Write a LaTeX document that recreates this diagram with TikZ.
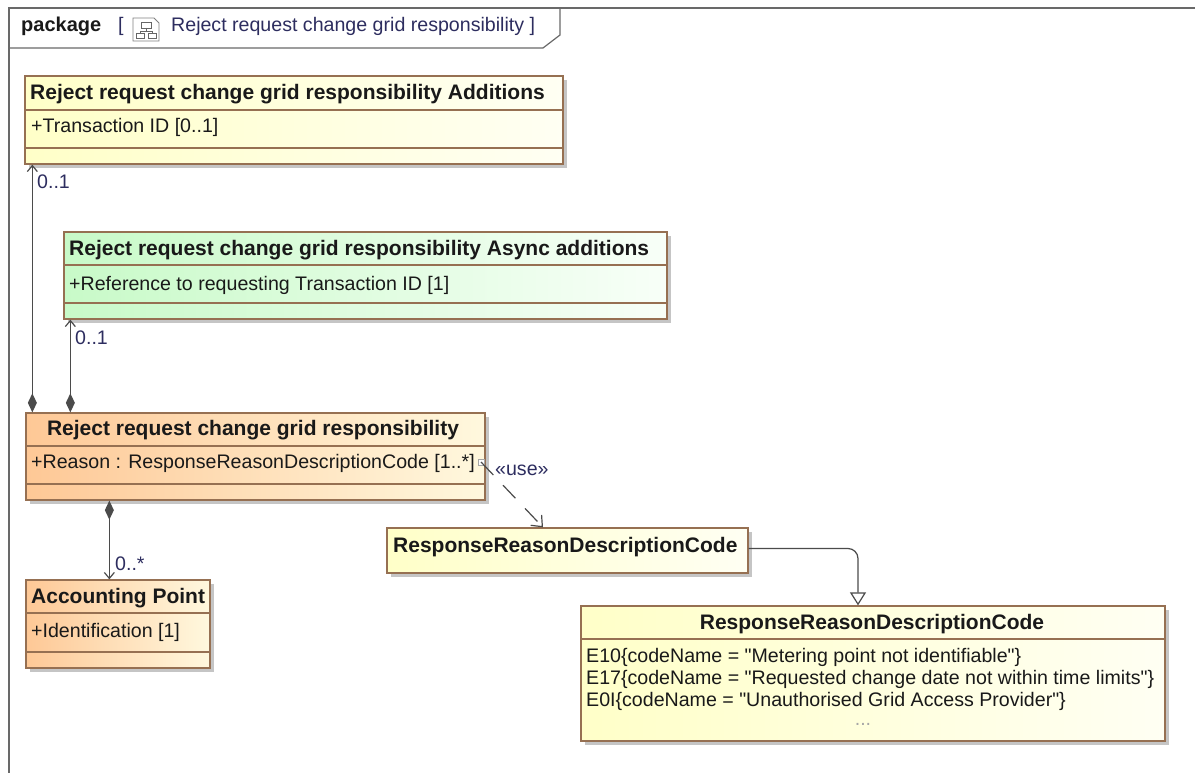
\documentclass[tikz,border=0pt]{standalone}
\usepackage{fontspec}
\setmainfont{Liberation Sans}[Ligatures=TeXOff]
\usetikzlibrary{arrows.meta,shadows}

\definecolor{boxline}{RGB}{150,112,82}
\definecolor{ylwL}{RGB}{255,255,200}
\definecolor{ylwR}{RGB}{255,255,243}
\definecolor{grnL}{RGB}{200,250,200}
\definecolor{grnR}{RGB}{248,255,248}
\definecolor{orgL}{RGB}{254,200,150}
\definecolor{orgR}{RGB}{255,248,222}
\definecolor{linkc}{RGB}{75,75,75}
\definecolor{framec}{RGB}{105,105,105}
\definecolor{txt}{RGB}{25,25,25}
\definecolor{multc}{RGB}{45,45,95}

\newcommand\hdrfont{\bfseries\fontsize{21}{25}\selectfont}
\newcommand\attrfont{\fontsize{19.6}{23}\selectfont}

\tikzset{
    classbox/.style={draw=boxline, line width=1.3pt, inner sep=0pt,
        drop shadow={shadow xshift=4pt, shadow yshift=-4pt, fill=black!45, opacity=.5}},
    yellowfill/.style={left color=ylwL, right color=ylwR},
    greenfill/.style={left color=grnL, right color=grnR},
    orangefill/.style={left color=orgL, right color=orgR},
    divider/.style={draw=boxline, line width=1.3pt},
    hdr/.style={font=\hdrfont, text=txt, inner sep=0pt, anchor=base west},
    attr/.style={font=\attrfont, text=txt, inner sep=0pt, anchor=base west},
    mult/.style={font=\attrfont, text=multc, inner sep=0pt, anchor=base west},
    comp/.style={draw=linkc, line width=1.2pt,
        {Diamond[width=9pt,length=19pt]}-{Straight Barb[length=6pt,width=10pt]}},
    usedep/.style={draw=linkc, line width=1.2pt, dash pattern=on 18pt off 14pt,
        -{Straight Barb[length=9pt,width=15pt]}},
    gen/.style={draw=linkc, line width=1.2pt, rounded corners=10pt,
        -{Triangle[open,width=16pt,length=13pt,fill=white]}},
}

\begin{document}
\begin{tikzpicture}[x=1pt,y=-1pt]
    \useasboundingbox (0,0) rectangle (1195,773);

    \draw[framec, line width=1.2pt] (1195,8) -- (9,8) -- (9,773);
    \draw[framec, line width=1.2pt] (9,48) -- (543,48) -- (560,35) -- (560,8);
    \node[hdr, font=\bfseries\fontsize{20}{24}\selectfont] (pkg) at (21,32) {package};
    \node[attr, text=multc] (pkgopen) at (118,32) {[};
    \draw[gray, line width=0.8pt, fill=white] (133,18) -- (154,18) -- (159,23) -- (159,41) -- (133,41) -- cycle;
    \draw[gray!80!black, line width=0.8pt] (141,22) rectangle (151,28);
    \draw[gray!80!black, line width=0.8pt] (146,28) -- (146,31) (140,31) -- (152,31) (140,31) -- (140,33) (152,31) -- (152,33);
    \draw[gray!80!black, line width=0.8pt] (136,33) rectangle (144,38) (148,33) rectangle (156,38);
    \node[attr, text=multc] (pkgtitle) at (171,32) {Reject request change grid responsibility ]};

    \node[classbox, yellowfill, minimum width=538pt, minimum height=88pt] (add) at (294,120) {};
    \draw[divider] (add.west |- 0,110) -- (add.east |- 0,110);
    \draw[divider] (add.west |- 0,148) -- (add.east |- 0,148);
    \node[hdr] (addhead) at (30,100) {Reject request change grid responsibility Additions};
    \node[attr] (addattr) at (31,133) {+Transaction ID [0..1]};

    \node[classbox, greenfill, minimum width=603pt, minimum height=87pt] (async) at (365.5,275.5) {};
    \draw[divider] (async.west |- 0,265) -- (async.east |- 0,265);
    \draw[divider] (async.west |- 0,303) -- (async.east |- 0,303);
    \node[hdr] (asynchead) at (69,255) {Reject request change grid responsibility Async additions};
    \node[attr] (asyncattr) at (69,290) {+Reference to requesting Transaction ID [1]};

    \node[classbox, orangefill, minimum width=459pt, minimum height=87pt] (reject) at (255.5,456.5) {};
    \draw[divider] (reject.west |- 0,446) -- (reject.east |- 0,446);
    \draw[divider] (reject.west |- 0,484) -- (reject.east |- 0,484);
    \node[hdr, anchor=base] (rejecthead) at (253,435) {Reject request change grid responsibility};
    \node[attr] (rejectattr) at (31,468) {+Reason : ResponseReasonDescriptionCode [1..*]};

    \node[classbox, orangefill, minimum width=184pt, minimum height=88pt] (acc) at (118,624) {};
    \draw[divider] (acc.west |- 0,613) -- (acc.east |- 0,613);
    \draw[divider] (acc.west |- 0,652) -- (acc.east |- 0,652);
    \node[hdr] (acchead) at (31,603) {Accounting Point};
    \node[attr] (accattr) at (31,637) {+Identification [1]};

    \node[classbox, yellowfill, minimum width=361pt, minimum height=45pt] (rrdc) at (567.5,550.5) {};
    \node[hdr] (rrdchead) at (393,552) {ResponseReasonDescriptionCode};

    \node[classbox, yellowfill, minimum width=584pt, minimum height=135pt] (enum) at (873,673.5) {};
    \draw[divider] (enum.west |- 0,639) -- (enum.east |- 0,639);
    \node[hdr, anchor=base] (enumhead) at (872,629) {ResponseReasonDescriptionCode};
    \node[attr] (lit1) at (586,662) {E10\{codeName = "Metering point not identifiable"\}};
    \node[attr] (lit2) at (586,684) {E17\{codeName = "Requested change date not within time limits"\}};
    \node[attr] (lit3) at (586,706) {E0I\{codeName = "Unauthorised Grid Access Provider"\}};
    \node[attr, anchor=base, text=gray!70] (litmore) at (863,725) {...};

    \draw[comp] ([xshift=7pt]reject.north west) -- ([xshift=7pt]reject.north west |- add.south);
    \node[mult] (addmult) at (37,189) {0..1};
    \draw[comp] ([xshift=45pt]reject.north west) -- ([xshift=45pt]reject.north west |- async.south);
    \node[mult] (asyncmult) at (75,344) {0..1};
    \draw[comp] ([xshift=84pt]reject.south west) -- ([xshift=84pt]reject.south west |- acc.north);
    \node[mult] (accmult) at (115,570) {0..*};

    \node[draw=gray!70, line width=0.8pt, fill=white, minimum size=6pt, inner sep=0pt] (usemark) at (481,462) {};
    \draw[usedep] (usemark.center) -- ([xshift=-24.5pt]rrdc.north);
    \node[mult] (uselbl) at (495,475) {«use»};

    \draw[gen] ([yshift=2pt]rrdc.east) -| ([xshift=-15pt]enum.north);
\end{tikzpicture}
\end{document}
